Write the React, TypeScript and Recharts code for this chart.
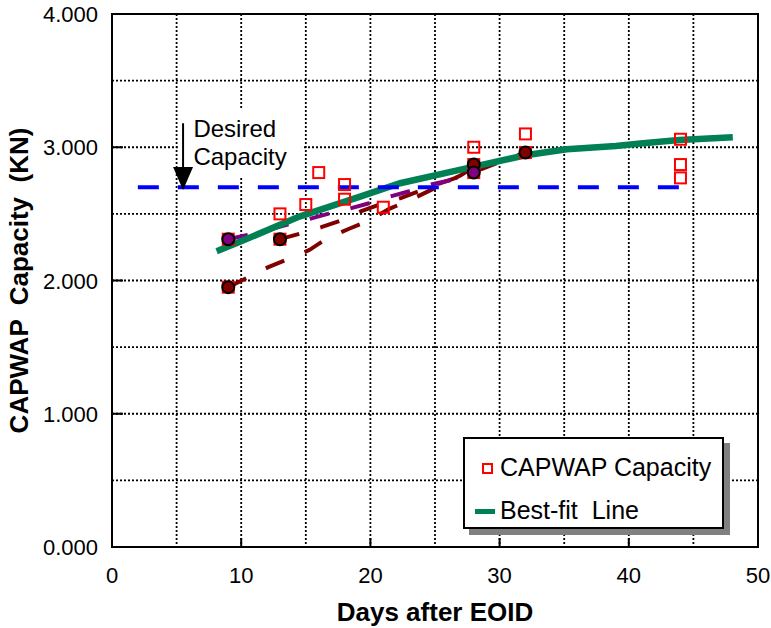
import React from "react";
import {
  ComposedChart,
  Line,
  Scatter,
  XAxis,
  YAxis,
  CartesianGrid,
  ReferenceArea,
  ReferenceLine,
  ReferenceDot,
  Label,
} from "recharts";

const FONT = "Arial, 'Liberation Sans', Helvetica, sans-serif";

const xTicks = [0, 5, 10, 15, 20, 25, 30, 35, 40, 45, 50];
const yTicks = [0, 0.5, 1, 1.5, 2, 2.5, 3, 3.5, 4];

// CAPWAP capacity points (days, capacity)
const capwap = [
  { x: 9, y: 2.31 }, { x: 9, y: 1.95 }, { x: 13, y: 2.31 }, { x: 13, y: 2.5 },
  { x: 15, y: 2.57 }, { x: 16, y: 2.81 }, { x: 18, y: 2.72 }, { x: 18, y: 2.61 },
  { x: 21, y: 2.55 }, { x: 28, y: 3.0 }, { x: 28, y: 2.87 }, { x: 28, y: 2.81 },
  { x: 32, y: 3.1 }, { x: 32, y: 2.96 }, { x: 44, y: 3.06 }, { x: 44, y: 2.87 },
  { x: 44, y: 2.77 },
];

// highlighted piles
const redPiles = [{ x: 9, y: 1.95 }, { x: 13, y: 2.31 }, { x: 28, y: 2.87 }, { x: 32, y: 2.96 }];
const purplePiles = [{ x: 9, y: 2.31 }, { x: 28, y: 2.81 }];

// setup trend lines
const trendA = [
  { x: 9, y: 1.95 }, { x: 12.1, y: 2.1 }, { x: 13.6, y: 2.16 }, { x: 15.3, y: 2.23 },
  { x: 16.7, y: 2.32 }, { x: 18.4, y: 2.39 }, { x: 19.9, y: 2.45 }, { x: 21.5, y: 2.54 },
  { x: 23, y: 2.6 }, { x: 24.7, y: 2.68 }, { x: 27, y: 2.79 }, { x: 28, y: 2.85 },
];
const trendB = [
  { x: 13, y: 2.31 }, { x: 14.5, y: 2.35 }, { x: 16.2, y: 2.4 }, { x: 17.7, y: 2.45 },
  { x: 19.3, y: 2.52 }, { x: 20.7, y: 2.57 }, { x: 22.4, y: 2.62 }, { x: 24, y: 2.68 },
  { x: 26, y: 2.75 }, { x: 28.7, y: 2.84 }, { x: 30.8, y: 2.92 }, { x: 32, y: 2.96 },
];
const trendC = [
  { x: 9, y: 2.31 }, { x: 10.4, y: 2.34 }, { x: 12.1, y: 2.38 }, { x: 13.6, y: 2.42 },
  { x: 15.2, y: 2.46 }, { x: 16.7, y: 2.5 }, { x: 18.4, y: 2.54 }, { x: 19.9, y: 2.58 },
  { x: 21.5, y: 2.63 }, { x: 23, y: 2.67 }, { x: 24.7, y: 2.72 }, { x: 26.1, y: 2.75 },
  { x: 28, y: 2.81 },
];

const bestFit = [
  { x: 8.1, y: 2.22 }, { x: 9.9, y: 2.29 }, { x: 14.5, y: 2.48 }, { x: 19.2, y: 2.63 },
  { x: 22.3, y: 2.73 }, { x: 26.9, y: 2.83 }, { x: 32, y: 2.94 }, { x: 35.2, y: 2.985 },
  { x: 39, y: 3.01 }, { x: 41.1, y: 3.03 }, { x: 43.9, y: 3.054 }, { x: 48.05, y: 3.075 },
];

const desired = [{ x: 2, y: 2.7 }, { x: 44.5, y: 2.7 }];
const arrowX = 5.5;
const arrowTop = 3.18;
const arrowTip = 2.68;
const noteAt = { x: 6.3, y: 3.08 };
const noteBox = { x1: 5.1, x2: 14.7, y1: 2.77, y2: 3.28 };

const XTick = (p: any) => {
  const v = p.payload.value;
  const major = v % 10 === 0;
  return (
    <g>
      {major && v > 0 && v < 50 && (
        <line x1={p.x} x2={p.x} y1={p.y} y2={p.y - 9} stroke="#000" strokeWidth={2} />
      )}
      {major && (
        <text x={p.x} y={p.y + 36} textAnchor="middle" fontSize={22} fontFamily={FONT} fill="#000">
          {v}
        </text>
      )}
    </g>
  );
};

const YTick = (p: any) => {
  const v = p.payload.value;
  const major = v % 1 === 0;
  if (!major) return <g />;
  return (
    <g>
      {v > 0 && v < 4 && (
        <line x1={p.x} x2={p.x + 11} y1={p.y} y2={p.y} stroke="#000" strokeWidth={2} />
      )}
      <text x={p.x - 14} y={p.y + 8} textAnchor="end" fontSize={22} fontFamily={FONT} fill="#000">
        {v.toFixed(3)}
      </text>
    </g>
  );
};

const Square = (p: any) => (
  <rect x={p.cx - 5.5} y={p.cy - 5.5} width={11} height={11} fill="none" stroke="#ff0000" strokeWidth={2} />
);
const RedDot = (p: any) => <circle cx={p.cx} cy={p.cy} r={6} fill="#800000" stroke="#000" strokeWidth={2} />;
const PurpleDot = (p: any) => <circle cx={p.cx} cy={p.cy} r={6} fill="#800080" stroke="#000" strokeWidth={2} />;

const Note = (p: any) => (
  <g>
    <text x={p.cx} y={p.cy} fontSize={24} fontFamily={FONT} fill="#000">Desired</text>
    <text x={p.cx} y={p.cy + 28} fontSize={24} fontFamily={FONT} fill="#000">Capacity</text>
  </g>
);

const ArrowHead = (p: any) => (
  <path d={`M${p.cx},${p.cy} L${p.cx - 10},${p.cy - 23} L${p.cx + 10},${p.cy - 23} Z`} fill="#000" />
);

export default function App() {
  return (
    <div style={{ position: "absolute", left: 0, top: 0, width: 771, height: 628, background: "#fff" }}>
      <ComposedChart width={771} height={628} margin={{ top: 14, right: 13, left: 0, bottom: 0 }}>
        <CartesianGrid stroke="#000" strokeWidth={1.8} strokeDasharray="2 2" />
        <XAxis
          type="number"
          dataKey="x"
          domain={[0, 50]}
          ticks={xTicks}
          interval={0}
          height={81}
          axisLine={false}
          tickLine={false}
          tickSize={0}
          tickMargin={0}
          tick={<XTick />}
        >
          <Label
            content={(lp: any) => (
              <text
                x={lp.viewBox.x + lp.viewBox.width / 2}
                y={621}
                textAnchor="middle"
                fontSize={26}
                fontWeight="bold"
                fontFamily={FONT}
                fill="#000"
              >
                Days after EOID
              </text>
            )}
          />
        </XAxis>
        <YAxis
          type="number"
          dataKey="y"
          domain={[0, 4]}
          ticks={yTicks}
          interval={0}
          width={112}
          axisLine={false}
          tickLine={false}
          tickSize={0}
          tickMargin={0}
          tick={<YTick />}
        >
          <Label
            content={(lp: any) => {
              const cy = lp.viewBox.y + lp.viewBox.height / 2;
              return (
                <text
                  x={28}
                  y={cy}
                  transform={`rotate(-90 28 ${cy})`}
                  textAnchor="middle"
                  fontSize={26}
                  fontWeight="bold"
                  fontFamily={FONT}
                  fill="#000"
                  style={{ whiteSpace: "pre" }}
                >
                  {"CAPWAP  Capacity  (KN)"}
                </text>
              );
            }}
          />
        </YAxis>
        <ReferenceArea
          x1={noteBox.x1}
          x2={noteBox.x2}
          y1={noteBox.y1}
          y2={noteBox.y2}
          fill="#fff"
          fillOpacity={1}
          stroke="none"
        />
        <ReferenceArea x1={0} x2={50} y1={0} y2={4} fill="none" stroke="#000" strokeWidth={2} />
        <ReferenceDot x={noteAt.x} y={noteAt.y} r={0} shape={<Note />} />
        <ReferenceLine
          segment={[{ x: arrowX, y: arrowTop }, { x: arrowX, y: arrowTip + 0.1 }]}
          stroke="#000"
          strokeWidth={2}
        />
        <ReferenceDot x={arrowX} y={arrowTip} r={0} shape={<ArrowHead />} />

        <Line data={trendA} dataKey="y" stroke="#800000" strokeWidth={4} strokeDasharray="20 22" dot={false} activeDot={false} isAnimationActive={false} />
        <Line data={trendB} dataKey="y" stroke="#800000" strokeWidth={4} strokeDasharray="20 22" dot={false} activeDot={false} isAnimationActive={false} />
        <Line data={trendC} dataKey="y" stroke="#800080" strokeWidth={4} strokeDasharray="20 22" dot={false} activeDot={false} isAnimationActive={false} />
        <Line data={bestFit} dataKey="y" stroke="#008053" strokeWidth={6.5} dot={false} activeDot={false} isAnimationActive={false} />
        <Line data={desired} dataKey="y" stroke="#0000ff" strokeWidth={4} strokeDasharray="21 19" dot={false} activeDot={false} isAnimationActive={false} />
        <Scatter data={capwap} dataKey="y" shape={<Square />} isAnimationActive={false} />
        <Scatter data={redPiles} dataKey="y" shape={<RedDot />} isAnimationActive={false} />
        <Scatter data={purplePiles} dataKey="y" shape={<PurpleDot />} isAnimationActive={false} />
      </ComposedChart>
      <div
        style={{
          position: "absolute",
          left: 463,
          top: 437,
          width: 257,
          height: 88,
          border: "2px solid #000",
          background: "#fff",
          boxShadow: "6px 6px 0 #808080",
          fontFamily: FONT,
          fontSize: 25,
          color: "#000",
        }}
      >
        <div style={{ position: "absolute", left: 17, top: 24, width: 7, height: 7, border: "2px solid #ff0000" }} />
        <div style={{ position: "absolute", left: 35, top: 13, lineHeight: "30px", whiteSpace: "pre" }}>CAPWAP Capacity</div>
        <div style={{ position: "absolute", left: 10, top: 70, width: 20, height: 5, background: "#008053" }} />
        <div style={{ position: "absolute", left: 35, top: 56, lineHeight: "30px", whiteSpace: "pre" }}>Best-fit  Line</div>
      </div>
    </div>
  );
}
